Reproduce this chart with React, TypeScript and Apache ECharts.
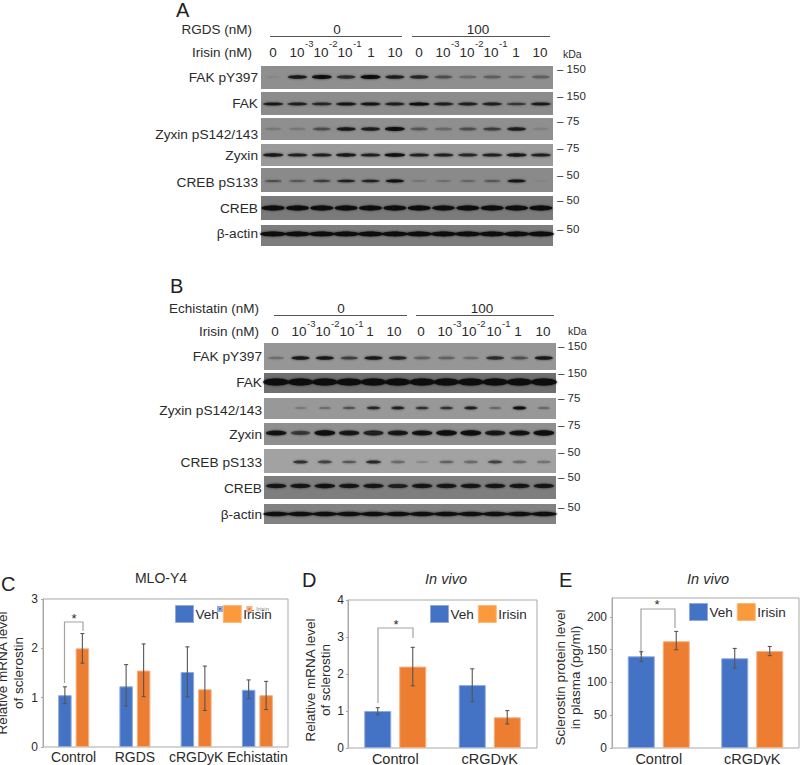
import React, { useEffect, useRef } from "react";
import * as echarts from "echarts";

const FONT = "Liberation Sans";
const LANES = ["0", "10-3", "10-2", "10-1", "1", "10", "0b", "10-3b", "10-2b", "10-1b", "1b", "10b"];

// Band strengths read from the blots (0 = no band, 1 = darkest)
const blotAFakP = [0.1, 0.85, 0.95, 0.7, 1, 0.8, 0.75, 0.5, 0.35, 0.4, 0.3, 0.4];
const blotAFak = [0.85, 0.8, 0.75, 0.9, 0.9, 0.8, 1, 0.8, 0.8, 0.8, 0.65, 0.85];
const blotAZyxP = [0.2, 0.2, 0.5, 0.85, 0.8, 0.95, 0.45, 0.35, 0.5, 0.6, 0.8, 0.15];
const blotAZyx = [0.85, 0.8, 0.8, 0.85, 0.8, 0.95, 0.8, 0.8, 0.75, 0.8, 0.85, 0.8];
const blotACrebP = [0.5, 0.45, 0.6, 0.8, 0.8, 0.95, 0.2, 0.25, 0.3, 0.45, 0.9, 0.1];
const blotACreb = [1, 1, 1, 1, 1, 1, 1, 0.95, 1, 1, 1, 1];
const blotAActin = [1, 1, 1, 1, 1, 1, 1, 1, 1, 1, 1, 1];
const blotBFakP = [0.3, 0.85, 0.85, 0.6, 0.85, 0.75, 0.4, 0.4, 0.3, 0.7, 0.5, 0.85];
const blotBFak = [1, 1, 1, 1, 1, 1, 1, 1, 1, 1, 1, 1];
const blotBZyxP = [0, 0.25, 0.35, 0.5, 0.75, 0.8, 0.7, 0.7, 0.8, 0.4, 0.95, 0.4];
const blotBZyx = [0.9, 0.6, 0.95, 0.85, 0.8, 0.85, 0.9, 0.95, 0.95, 0.85, 0.9, 0.95];
const blotBCrebP = [0, 0.7, 0.6, 0.5, 0.75, 0.4, 0.2, 0.45, 0.4, 0.6, 0.4, 0.35];
const blotBCreb = [0.85, 0.85, 0.9, 0.85, 0.85, 0.8, 0.85, 0.85, 0.85, 0.85, 0.85, 0.85];
const blotBActin = [0.95, 0.95, 0.95, 0.95, 0.95, 0.95, 0.95, 0.95, 0.95, 0.95, 0.95, 0.95];

const blotNames = ["FAK pY397", "FAK", "Zyxin pS142/143", "Zyxin", "CREB pS133", "CREB", "β-actin"];
const kdaTicks = ["150", "150", "75", "75", "50", "50", "50"];

// Panel C
const cCats = ["Control", "RGDS", "cRGDyK", "Echistatin"];
const cVeh = [1.05, 1.23, 1.52, 1.16];
const cIrisin = [2.0, 1.55, 1.17, 1.05];
const cVehLow = [0.88, 0.83, 1.02, 0.98];
const cVehHigh = [1.22, 1.67, 2.03, 1.36];
const cIrisinLow = [1.7, 1.02, 0.74, 0.76];
const cIrisinHigh = [2.3, 2.09, 1.64, 1.33];
// Panel D
const dCats = ["Control", "cRGDyK"];
const dVeh = [1.0, 1.7];
const dIrisin = [2.2, 0.83];
const dVehLow = [0.9, 1.25];
const dVehHigh = [1.09, 2.14];
const dIrisinLow = [1.68, 0.65];
const dIrisinHigh = [2.72, 1.01];
// Panel E
const eCats = ["Control", "cRGDyK"];
const eVeh = [140, 137];
const eIrisin = [163, 148];
const eVehLow = [132, 122];
const eVehHigh = [147, 152];
const eIrisinLow = [150, 141];
const eIrisinHigh = [178, 155];

const zip3 = (a: number[], b: number[]) => a.map((v, i) => [i, v, b[i]]);

type Panel = { d: number[]; top: number; bottom: number; cy: number; bg: string; rx: number; ry: number; label: number; tick: number };

const panelsA: Panel[] = [
  { d: blotAFakP, top: 66, bottom: 89, cy: 77, bg: "#8f8f8f", rx: 10, ry: 2.0, label: 77, tick: 69 },
  { d: blotAFak, top: 92, bottom: 115, cy: 104, bg: "#8c8c8c", rx: 10.5, ry: 1.6, label: 103, tick: 96 },
  { d: blotAZyxP, top: 118, bottom: 140, cy: 129, bg: "#8f8f8f", rx: 10, ry: 2.0, label: 134, tick: 121 },
  { d: blotAZyx, top: 144, bottom: 166, cy: 155, bg: "#9a9a9a", rx: 10.5, ry: 1.8, label: 155, tick: 148 },
  { d: blotACrebP, top: 168, bottom: 192, cy: 181, bg: "#8a8a8a", rx: 9.5, ry: 1.5, label: 182, tick: 175 },
  { d: blotACreb, top: 196, bottom: 220, cy: 208, bg: "#7a7a7a", rx: 11.5, ry: 2.5, label: 208, tick: 200 },
  { d: blotAActin, top: 225, bottom: 246, cy: 234, bg: "#7d7d7d", rx: 13, ry: 2.4, label: 233, tick: 229 },
];
const panelsB: Panel[] = [
  { d: blotBFakP, top: 343, bottom: 370, cy: 358, bg: "#969696", rx: 9.5, ry: 2.0, label: 356, tick: 346 },
  { d: blotBFak, top: 373, bottom: 393, cy: 382, bg: "#707070", rx: 13, ry: 3.6, label: 382, tick: 373 },
  { d: blotBZyxP, top: 398, bottom: 419, cy: 408, bg: "#989898", rx: 7, ry: 1.6, label: 410, tick: 398 },
  { d: blotBZyx, top: 423, bottom: 445, cy: 433, bg: "#8f8f8f", rx: 10.5, ry: 2.7, label: 434, tick: 425 },
  { d: blotBCrebP, top: 449, bottom: 473, cy: 462, bg: "#a2a2a2", rx: 8, ry: 1.8, label: 462, tick: 452 },
  { d: blotBCreb, top: 476, bottom: 499, cy: 486, bg: "#7e7e7e", rx: 10.5, ry: 2.3, label: 488, tick: 477 },
  { d: blotBActin, top: 504, bottom: 524, cy: 514, bg: "#828282", rx: 13, ry: 2.3, label: 514, tick: 507 },
];

const text = (t: string, x: number, y: number, size = 13, align = "left", extra: any = {}) => ({
  type: "text",
  x,
  y,
  silent: true,
  style: { text: t, fontSize: size, fontFamily: FONT, fill: "#2b2b2b", align, verticalAlign: "middle", ...extra },
});

const line = (x1: number, y1: number, x2: number, y2: number, stroke = "#555", w = 1) => ({
  type: "line",
  silent: true,
  shape: { x1, y1, x2, y2 },
  style: { stroke, lineWidth: w },
});

const bracket = (pts: number[][]) => ({
  type: "polyline",
  silent: true,
  shape: { points: pts },
  style: { stroke: "#a3a3a3", lineWidth: 1.2, fill: "none" },
});

export default function App() {
  const ref = useRef<HTMLDivElement>(null);
  useEffect(() => {
    document.body.style.margin = "0";
    const chart = echarts.init(ref.current!, undefined, { renderer: "svg" });

    const grids: any[] = [];
    const xAxes: any[] = [];
    const yAxes: any[] = [];
    const series: any[] = [];
    const graphics: any[] = [];

    // Blots
    const addBlots = (panels: Panel[], left: number, labelRight: number, tickX: number) => {
      panels.forEach((p, k) => {
        const gi = grids.length;
        grids.push({
          left,
          width: 292,
          top: p.top,
          height: p.bottom - p.top,
          show: true,
          backgroundColor: p.bg,
          borderWidth: 0,
          outerBoundsMode: "none",
        });
        xAxes.push({ type: "category", gridIndex: gi, data: LANES, show: false });
        yAxes.push({ type: "value", gridIndex: gi, min: 0, max: 1, show: false });
        series.push({
          type: "custom",
          name: blotNames[k],
          xAxisIndex: gi,
          yAxisIndex: gi,
          silent: true,
          data: p.d.map((v, i) => [i, v]),
          encode: { x: 0, y: 1 },
          renderItem: (_: any, api: any) => {
            const x = api.coord([api.value(0), 0])[0];
            const v = api.value(1);
            if (v <= 0) return { type: "group", children: [] };
            return {
              type: "ellipse",
              shape: { cx: x, cy: p.cy, rx: p.rx * (0.8 + 0.2 * v), ry: p.ry * (0.5 + 0.5 * v) },
              style: { fill: "#0c0c0c", opacity: Math.min(1, Math.pow(v, 1.4)), shadowBlur: 2, shadowColor: "#222" },
            };
          },
        });
        graphics.push(text(blotNames[k], labelRight, p.label, 13.7, "right"));
        graphics.push(text("– " + kdaTicks[k], tickX, p.tick, 11.5));
      });
    };
    addBlots(panelsA, 261, 258, 557);
    addBlots(panelsB, 264, 262, 558);

    // Bar charts
    const addBars = (cfg: any) => {
      const gi = grids.length;
      grids.push({
        left: cfg.left,
        width: cfg.width,
        top: cfg.top,
        height: cfg.height,
        show: true,
        backgroundColor: "transparent",
        borderColor: "#a9a9a9",
        borderWidth: 1,
        outerBoundsMode: "none",
      });
      xAxes.push({
        type: "category",
        gridIndex: gi,
        data: cfg.cats,
        axisLine: { show: false },
        axisTick: { show: false },
        axisLabel: { fontFamily: FONT, fontSize: cfg.catSize, color: "#2b2b2b", margin: 3, interval: 0 },
      });
      yAxes.push({
        type: "value",
        gridIndex: gi,
        min: 0,
        max: cfg.max,
        interval: cfg.interval,
        splitLine: { show: false },
        axisLine: { show: true, lineStyle: { color: "#a9a9a9" } },
        axisTick: { show: true, length: 2, lineStyle: { color: "#a9a9a9" } },
        axisLabel: { fontFamily: FONT, fontSize: 12, color: "#2b2b2b", margin: cfg.labelMargin ?? 5, showMaxLabel: cfg.showMax ?? true },
        name: cfg.yName,
        nameLocation: "middle",
        nameGap: cfg.nameGap,
        nameTextStyle: {
          fontFamily: FONT,
          fontSize: 13.5,
          color: "#2b2b2b",
          lineHeight: cfg.nameLH,
          padding: [0, cfg.namePad, 0, 0],
        },
      });
      const bw = cfg.barW;
      const off = (cfg.barW + cfg.gap) / 2;
      [
        ["Veh", "#4472c4", "#8fabdd", cfg.veh],
        ["Irisin", "#ed7d31", "#f5b183", cfg.iri],
      ].forEach(([name, color, border, vals]: any) => {
        series.push({
          type: "bar",
          name,
          xAxisIndex: gi,
          yAxisIndex: gi,
          data: vals,
          barWidth: bw,
          barGap: `${(cfg.gap / bw) * 100}%`,
          itemStyle: { color, borderColor: border, borderWidth: 1 },
        });
      });
      [
        ["Veh SD", cfg.vehLH, -off],
        ["Irisin SD", cfg.iriLH, off],
      ].forEach(([name, lh, dx]: any) => {
        series.push({
          type: "custom",
          name,
          xAxisIndex: gi,
          yAxisIndex: gi,
          silent: true,
          z: 5,
          data: lh,
          encode: { x: 0, y: [1, 2] },
          renderItem: (_: any, api: any) => {
            const lo = api.coord([api.value(0), api.value(1)]);
            const hi = api.coord([api.value(0), api.value(2)]);
            const x = lo[0] + dx;
            const s = { stroke: "#555", lineWidth: 1.1 };
            return {
              type: "group",
              children: [
                { type: "line", shape: { x1: x, y1: lo[1], x2: x, y2: hi[1] }, style: s },
                { type: "line", shape: { x1: x - 2, y1: lo[1], x2: x + 2, y2: lo[1] }, style: s },
                { type: "line", shape: { x1: x - 2, y1: hi[1], x2: x + 2, y2: hi[1] }, style: s },
              ],
            };
          },
        });
      });
    };

    addBars({
      left: 43, width: 245, top: 599, height: 148, cats: cCats, max: 3, interval: 1, catSize: 14,
      yName: "Relative mRNA level\nof sclerostin", nameGap: 17, nameLH: 16, namePad: 0,
      veh: cVeh, iri: cIrisin, vehLH: zip3(cVehLow, cVehHigh), iriLH: zip3(cIrisinLow, cIrisinHigh), barW: 13.5, gap: 4,
    });
    addBars({
      left: 348, width: 189, top: 600, height: 148, cats: dCats, max: 4, interval: 1, labelMargin: 4, catSize: 14.5,
      yName: "Relative mRNA level\nof sclerostin", nameGap: 15, nameLH: 15, namePad: 12,
      veh: dVeh, iri: dIrisin, vehLH: zip3(dVehLow, dVehHigh), iriLH: zip3(dIrisinLow, dIrisinHigh), barW: 27, gap: 8,
    });
    addBars({
      left: 612, width: 187, top: 598, height: 150, cats: eCats, max: 229, interval: 50, showMax: false, catSize: 14.5,
      yName: "Sclerostin protein level\nin plasma (pg/ml)", nameGap: 26, nameLH: 15, namePad: 9,
      veh: eVeh, iri: eIrisin, vehLH: zip3(eVehLow, eVehHigh), iriLH: zip3(eIrisinLow, eIrisinHigh), barW: 27, gap: 8,
    });

    // Headers of blots
    const header = (
      drug: string, right: number, y1: number, y2: number,
      z0: number, z100: number, lx: number[], labels: number[],
      sup: number, kx: number, ky: number
    ) => {
      graphics.push(text(drug, right, y1, 13.5, "right"));
      graphics.push(text("Irisin (nM)", right, y2, 13.5, "right"));
      graphics.push(text("0", z0, y1, 13.5, "center"));
      graphics.push(text("100", z100, y1, 13.5, "center"));
      graphics.push(line(lx[0], y1 + 7.5, lx[1], y1 + 7.5));
      graphics.push(line(lx[2], y1 + 7.5, lx[3], y1 + 7.5));
      const t = ["0", "10", "10", "10", "1", "10", "0", "10", "10", "10", "1", "10"];
      const s = ["", "-3", "-2", "-1", "", "", "", "-3", "-2", "-1", "", ""];
      t.forEach((v, i) => {
        graphics.push(text(v, labels[i], y2, 13.5, "center"));
        if (s[i]) graphics.push(text(s[i], labels[i] + 8, sup, 9.5, "left"));
      });
      graphics.push(text("kDa", kx, ky, 10.5));
    };
    header("RGDS (nM)", 252, 29, 52, 337, 478, [270, 402, 412, 550],
      [273, 297, 321, 345, 371, 395, 419, 443, 467, 491, 516, 540], 43, 563, 54);
    header("Echistatin (nM)", 259, 308, 331, 341, 482, [274, 407, 416, 554],
      [275, 299, 323, 347, 370, 394, 421, 445, 469, 494, 518, 543], 323, 568, 331);

    // Panel letters
    graphics.push(text("A", 176, 9.5, 20, "left", { fill: "#222" }));
    graphics.push(text("B", 170, 286, 20, "left", { fill: "#222" }));
    graphics.push(text("C", 1, 584, 20, "left", { fill: "#222" }));
    graphics.push(text("D", 302, 580, 20, "left", { fill: "#222" }));
    graphics.push(text("E", 559, 580, 20, "left", { fill: "#222" }));

    // Significance brackets
    graphics.push(bracket([[64.5, 683], [64.5, 622], [83, 622], [83, 631]]));
    graphics.push(bracket([[378, 703], [378, 628], [413, 628], [413, 638]]));
    graphics.push(bracket([[641, 655], [641, 609], [675, 609], [675, 628]]));
    graphics.push(text("*", 74, 618, 13, "center"));
    graphics.push(text("*", 396, 624, 13, "center"));
    graphics.push(text("*", 657, 604, 13, "center"));

    const legendItem = (name: string, color: string) => ({ name, itemStyle: { color, borderColor: name === "Veh" ? "#8fabdd" : "#fbb877", borderWidth: 1 } });
    const mainLegend = (left: number, top: number, w: number, h: number, gap: number) => ({
      left, top, itemWidth: w, itemHeight: h, itemGap: gap, orient: "horizontal", padding: 0,
      selectedMode: false, icon: "rect",
      data: [legendItem("Veh", "#4472c4"), legendItem("Irisin", "#fa9a3c")],
      textStyle: { fontFamily: FONT, fontSize: 13.5, color: "#2b2b2b", padding: [0, 0, 0, -3] },
    });

    chart.setOption({
      animation: false,
      backgroundColor: "#ffffff",
      title: [
        { text: "MLO-Y4", left: 156, top: 566, textAlign: "center", textStyle: { fontFamily: FONT, fontSize: 14, fontWeight: "normal", color: "#2b2b2b" } },
        { text: "In vivo", left: 441, top: 566, textAlign: "center", textStyle: { fontFamily: FONT, fontSize: 14.5, fontStyle: "italic", fontWeight: "normal", color: "#2b2b2b" } },
        { text: "In vivo", left: 703, top: 566, textAlign: "center", textStyle: { fontFamily: FONT, fontSize: 14.5, fontStyle: "italic", fontWeight: "normal", color: "#2b2b2b" } },
      ],
      legend: [
        {
          left: 217, top: 606, itemWidth: 4, itemHeight: 4, itemGap: 9, padding: 0, selectedMode: false, icon: "rect",
          data: [{ name: "Veh", itemStyle: { color: "#4472c4" } }, { name: "Irisin", itemStyle: { color: "#ed7d31" } }],
          textStyle: { fontFamily: FONT, fontSize: 6, color: "#888" },
        },
        mainLegend(175, 605, 18, 17, 4),
        mainLegend(430, 605, 18, 17, 4),
        mainLegend(689, 603, 18, 17, 4),
      ],
      grid: grids,
      xAxis: xAxes,
      yAxis: yAxes,
      series,
      graphic: { elements: graphics },
    });
    return () => chart.dispose();
  }, []);
  return <div ref={ref} style={{ width: 800, height: 765 }} />;
}
